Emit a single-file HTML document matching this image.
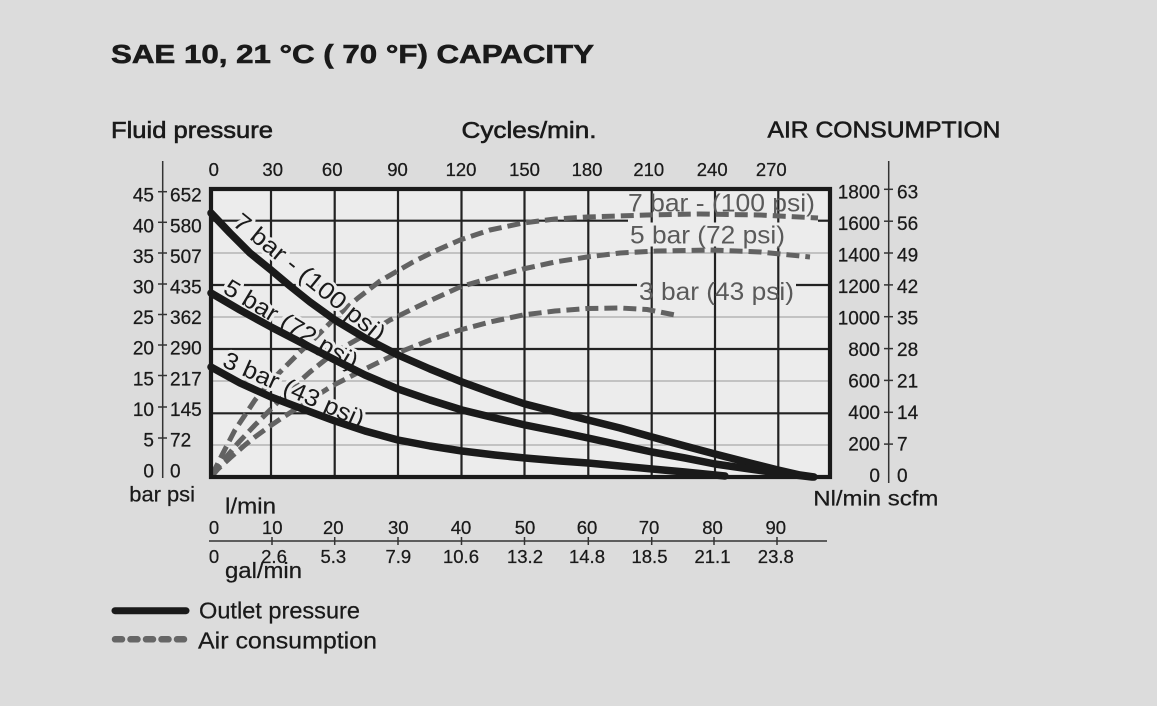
<!DOCTYPE html>
<html>
<head>
<meta charset="utf-8">
<style>
html,body{margin:0;padding:0;background:#dcdcdc;width:1157px;height:706px;overflow:hidden;}
svg{display:block;}
text{font-family:"Liberation Sans",Arial,sans-serif;}
</style>
</head>
<body>
<svg width="1157" height="706" viewBox="0 0 1157 706" xmlns="http://www.w3.org/2000/svg">
<rect width="1157" height="706" fill="#dcdcdc"/>

<!-- Title & headers -->
<text x="111" y="63" font-weight="bold" font-size="26" textLength="483" lengthAdjust="spacingAndGlyphs" fill="#1a1a1a" stroke="#1a1a1a" stroke-width="0.6">SAE 10, 21 °C ( 70 °F) CAPACITY</text>
<g font-size="23.5" fill="#1a1a1a" stroke="#1a1a1a" stroke-width="0.6">
<text x="111" y="138" textLength="162" lengthAdjust="spacingAndGlyphs">Fluid pressure</text>
<text x="461.5" y="138" textLength="135" lengthAdjust="spacingAndGlyphs">Cycles/min.</text>
<text x="767.5" y="137.5" textLength="233" lengthAdjust="spacingAndGlyphs">AIR CONSUMPTION</text>
</g>

<!-- Plot background -->
<rect x="211" y="189" width="619" height="288" fill="#ececec"/>

<!-- Faint grid -->
<g stroke="#a8a8a8" stroke-width="1.2">
<line x1="211" y1="253" x2="830" y2="253"/>
<line x1="211" y1="317" x2="830" y2="317"/>
<line x1="211" y1="381" x2="830" y2="381"/>
<line x1="211" y1="445" x2="830" y2="445"/>
</g>

<!-- Dark grid -->
<g stroke="#222" stroke-width="2.2">
<line x1="271" y1="189" x2="271" y2="477"/>
<line x1="334.7" y1="189" x2="334.7" y2="477"/>
<line x1="398" y1="189" x2="398" y2="477"/>
<line x1="461.5" y1="189" x2="461.5" y2="477"/>
<line x1="524.5" y1="189" x2="524.5" y2="477"/>
<line x1="588.3" y1="189" x2="588.3" y2="477"/>
<line x1="651.7" y1="189" x2="651.7" y2="477"/>
<line x1="715" y1="189" x2="715" y2="477"/>
<line x1="778.3" y1="189" x2="778.3" y2="477"/>
<line x1="211" y1="220.7" x2="628" y2="220.7"/>
<line x1="818" y1="220.7" x2="830" y2="220.7"/>
<line x1="211" y1="285" x2="637" y2="285"/>
<line x1="796" y1="285" x2="830" y2="285"/>
<line x1="211" y1="349" x2="830" y2="349"/>
<line x1="211" y1="413.3" x2="830" y2="413.3"/>
</g>

<!-- mask behind 5 bar gray label -->
<rect x="630" y="222.5" width="156" height="24" fill="#ececec"/>

<!-- Gray labels -->
<g font-size="25" fill="#5a5a5a">
<text x="628" y="211.5" textLength="187" lengthAdjust="spacingAndGlyphs">7 bar - (100 psi)</text>
<text x="630" y="243.5" textLength="155" lengthAdjust="spacingAndGlyphs">5 bar (72 psi)</text>
<text x="639" y="300" textLength="155" lengthAdjust="spacingAndGlyphs">3 bar (43 psi)</text>
</g>

<!-- Air consumption dashed curves -->
<g fill="none" stroke="#626262" stroke-width="5" stroke-dasharray="13 6" stroke-linejoin="round">
<path d="M212,475 L222,455 L235,430 L255,400 L270,382 L285,367 L300,352 L315,338 L336,317 L358,298 L380,281 L413,262 L435,251 L460,240 L490,230 L523,223 L555,219 L587,217 L647,215 L700,214 L760,215 L818,218"/>
<path d="M212,475 L222,462 L238,443 L255,425 L272,408 L290,390 L310,372 L335,352 L365,335 L390,320 L425,303 L460,287 L490,278 L523,269 L555,262 L587,257 L620,253 L657,251 L710,250 L760,252 L810,257"/>
<path d="M212,476 L218,469 L230,458 L245,445 L255,437 L270,426 L285,416 L305,403 L332,386 L365,369 L400,352 L430,340 L460,330 L490,322 L523,315 L555,311 L587,308.5 L620,308 L647,309.5 L675,315"/>
</g>

<!-- Black rotated labels with halo -->
<g font-size="24" fill="#1a1a1a" stroke="#ececec" stroke-width="6" paint-order="stroke" stroke-linejoin="round" text-anchor="middle">
<text transform="translate(304.6,283.6) rotate(39)" textLength="188" lengthAdjust="spacingAndGlyphs">7 bar - (100 psi)</text>
<text transform="translate(287,331.4) rotate(31)" textLength="152" lengthAdjust="spacingAndGlyphs">5 bar (72 psi)</text>
<text transform="translate(290.5,396.9) rotate(24)" textLength="152" lengthAdjust="spacingAndGlyphs">3 bar (43 psi)</text>
</g>

<!-- Outlet pressure curves -->
<g fill="none" stroke="#1a1a1a" stroke-width="7.5" stroke-linecap="round" stroke-linejoin="round">
<path d="M211,213 L230,233 L250,253 L271,270 L290,286 L310,302 L335,320 L365,338 L398,355 L430,369 L462,382 L495,394 L525,404 L560,413 L588,420 L620,428 L652,437 L685,446 L715,454 L750,463 L778,470 L800,475 L814,477"/>
<path d="M211,293 L240,310 L271,327 L300,342 L335,360 L365,375 L398,389 L430,400 L462,410 L495,418 L525,425 L560,432 L588,438 L620,445 L652,452 L685,458 L715,464 L750,469 L778,473 L812,477"/>
<path d="M211,367 L240,383 L271,397 L300,408 L335,421 L365,431 L398,440 L430,446 L462,451 L495,455 L525,458 L560,461 L588,463 L620,466 L652,469 L685,472 L725,476"/>
</g>

<!-- Plot border -->
<rect x="211" y="189" width="619" height="288" fill="none" stroke="#1a1a1a" stroke-width="4.2"/>

<!-- Left axis -->
<g stroke="#333" stroke-width="1.5">
<line x1="162.7" y1="161" x2="162.7" y2="478"/>
<line x1="158" y1="191.7" x2="167" y2="191.7"/>
<line x1="158" y1="222.3" x2="167" y2="222.3"/>
<line x1="158" y1="253" x2="167" y2="253"/>
<line x1="158" y1="284" x2="167" y2="284"/>
<line x1="158" y1="314.5" x2="167" y2="314.5"/>
<line x1="158" y1="345" x2="167" y2="345"/>
<line x1="158" y1="375.5" x2="167" y2="375.5"/>
<line x1="158" y1="407" x2="167" y2="407"/>
<line x1="158" y1="438" x2="167" y2="438"/>
</g>
<g font-size="19" fill="#1a1a1a" stroke="#1a1a1a" stroke-width="0.25" text-anchor="end">
<text x="154" y="201.7">45</text>
<text x="154" y="232.3">40</text>
<text x="154" y="262.9">35</text>
<text x="154" y="293.5">30</text>
<text x="154" y="324.1">25</text>
<text x="154" y="354.7">20</text>
<text x="154" y="385.3">15</text>
<text x="154" y="415.9">10</text>
<text x="154" y="446.5">5</text>
<text x="154" y="477.5">0</text>
</g>
<g font-size="19" fill="#1a1a1a" stroke="#1a1a1a" stroke-width="0.25">
<text x="170" y="201.7">652</text>
<text x="170" y="232.3">580</text>
<text x="170" y="262.9">507</text>
<text x="170" y="293.5">435</text>
<text x="170" y="324.1">362</text>
<text x="170" y="354.7">290</text>
<text x="170" y="385.3">217</text>
<text x="170" y="415.9">145</text>
<text x="170" y="446.5">72</text>
<text x="170" y="477.5">0</text>
</g>
<text x="129.3" y="501.7" font-size="21.5" fill="#1a1a1a" stroke="#1a1a1a" stroke-width="0.25" textLength="65.7" lengthAdjust="spacingAndGlyphs">bar psi</text>

<!-- Right axis -->
<g stroke="#333" stroke-width="1.5">
<line x1="888.7" y1="161" x2="888.7" y2="483"/>
<line x1="884" y1="189.3" x2="893" y2="189.3"/>
<line x1="884" y1="221.2" x2="893" y2="221.2"/>
<line x1="884" y1="253" x2="893" y2="253"/>
<line x1="884" y1="284.9" x2="893" y2="284.9"/>
<line x1="884" y1="316.7" x2="893" y2="316.7"/>
<line x1="884" y1="348.6" x2="893" y2="348.6"/>
<line x1="884" y1="380.4" x2="893" y2="380.4"/>
<line x1="884" y1="412.3" x2="893" y2="412.3"/>
<line x1="884" y1="444.1" x2="893" y2="444.1"/>
</g>
<g font-size="19" fill="#1a1a1a" stroke="#1a1a1a" stroke-width="0.25" text-anchor="end">
<text x="880" y="198.3">1800</text>
<text x="880" y="229.8">1600</text>
<text x="880" y="261.3">1400</text>
<text x="880" y="292.8">1200</text>
<text x="880" y="324.3">1000</text>
<text x="880" y="355.8">800</text>
<text x="880" y="387.3">600</text>
<text x="880" y="418.8">400</text>
<text x="880" y="450.3">200</text>
<text x="880" y="481.8">0</text>
</g>
<g font-size="19" fill="#1a1a1a" stroke="#1a1a1a" stroke-width="0.25">
<text x="897" y="198.3">63</text>
<text x="897" y="229.8">56</text>
<text x="897" y="261.3">49</text>
<text x="897" y="292.8">42</text>
<text x="897" y="324.3">35</text>
<text x="897" y="355.8">28</text>
<text x="897" y="387.3">21</text>
<text x="897" y="418.8">14</text>
<text x="897" y="450.3">7</text>
<text x="897" y="481.8">0</text>
</g>
<text x="813.3" y="505.7" font-size="21.5" fill="#1a1a1a" stroke="#1a1a1a" stroke-width="0.25" textLength="125" lengthAdjust="spacingAndGlyphs">Nl/min scfm</text>

<!-- Top axis labels -->
<g font-size="18.5" fill="#1a1a1a" stroke="#1a1a1a" stroke-width="0.25" text-anchor="middle">
<text x="213.8" y="176">0</text>
<text x="272.7" y="176">30</text>
<text x="332.2" y="176">60</text>
<text x="397.5" y="176">90</text>
<text x="461" y="176">120</text>
<text x="524.5" y="176">150</text>
<text x="587" y="176">180</text>
<text x="648.8" y="176">210</text>
<text x="712.2" y="176">240</text>
<text x="771.3" y="176">270</text>
</g>

<!-- Bottom axis -->
<text x="225" y="513.3" font-size="22" fill="#1a1a1a" stroke="#1a1a1a" stroke-width="0.25" textLength="51" lengthAdjust="spacingAndGlyphs">l/min</text>
<g stroke="#333" stroke-width="1.5">
<line x1="209" y1="541" x2="827" y2="541"/>
<line x1="272" y1="537" x2="272" y2="545"/>
<line x1="334.7" y1="537" x2="334.7" y2="545"/>
<line x1="398" y1="537" x2="398" y2="545"/>
<line x1="461.5" y1="537" x2="461.5" y2="545"/>
<line x1="524.5" y1="537" x2="524.5" y2="545"/>
<line x1="588.3" y1="537" x2="588.3" y2="545"/>
<line x1="651.7" y1="537" x2="651.7" y2="545"/>
<line x1="714" y1="537" x2="714" y2="545"/>
<line x1="777" y1="537" x2="777" y2="545"/>
</g>
<g font-size="18.5" fill="#1a1a1a" stroke="#1a1a1a" stroke-width="0.25" text-anchor="middle">
<text x="214" y="534">0</text>
<text x="272.3" y="534">10</text>
<text x="333.3" y="534">20</text>
<text x="398.3" y="534">30</text>
<text x="461" y="534">40</text>
<text x="525" y="534">50</text>
<text x="587" y="534">60</text>
<text x="649" y="534">70</text>
<text x="712.5" y="534">80</text>
<text x="775.8" y="534">90</text>
<text x="214" y="563">0</text>
<text x="274" y="563">2.6</text>
<text x="333.3" y="563">5.3</text>
<text x="398.3" y="563">7.9</text>
<text x="461" y="563">10.6</text>
<text x="525" y="563">13.2</text>
<text x="587" y="563">14.8</text>
<text x="649.5" y="563">18.5</text>
<text x="712.5" y="563">21.1</text>
<text x="775.8" y="563">23.8</text>
</g>
<text x="225" y="578" font-size="22" fill="#1a1a1a" stroke="#1a1a1a" stroke-width="0.25" textLength="77" lengthAdjust="spacingAndGlyphs">gal/min</text>

<!-- Legend -->
<line x1="115" y1="610.7" x2="186" y2="610.7" stroke="#1a1a1a" stroke-width="7" stroke-linecap="round"/>
<line x1="115" y1="639.3" x2="187" y2="639.3" stroke="#666" stroke-width="6.5" stroke-linecap="round" stroke-dasharray="7 8.5"/>
<g font-size="23.5" fill="#1a1a1a" stroke="#1a1a1a" stroke-width="0.25">
<text x="199" y="618.3" textLength="161" lengthAdjust="spacingAndGlyphs">Outlet pressure</text>
<text x="198" y="648.3" textLength="179" lengthAdjust="spacingAndGlyphs">Air consumption</text>
</g>
</svg>
</body>
</html>
